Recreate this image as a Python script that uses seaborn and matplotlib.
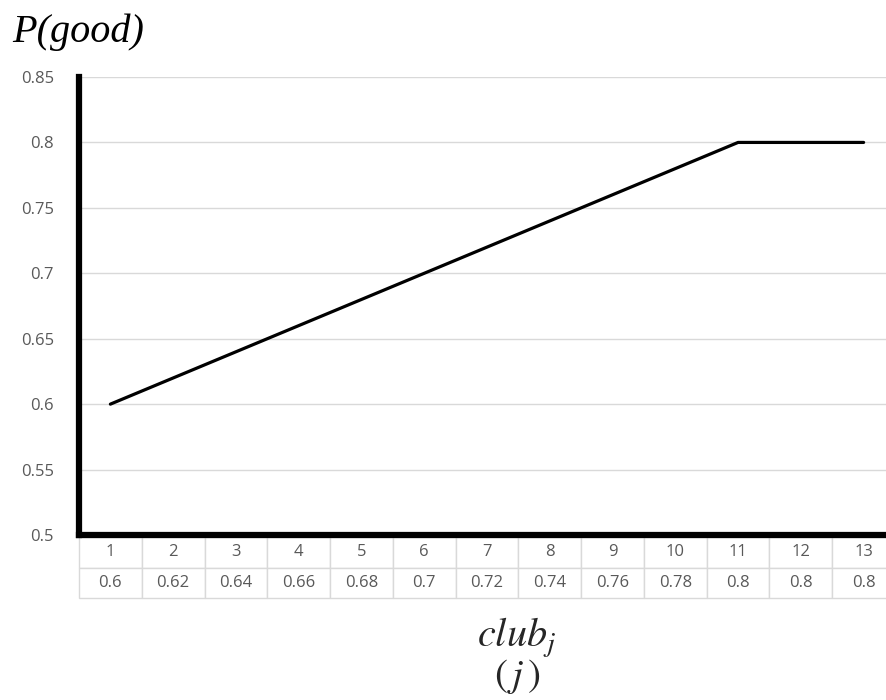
import matplotlib
matplotlib.use("Agg")
import matplotlib.pyplot as plt
import seaborn as sns
import pandas as pd

j_values = [1, 2, 3, 4, 5, 6, 7, 8, 9, 10, 11, 12, 13]
p_good = [0.6, 0.62, 0.64, 0.66, 0.68, 0.7, 0.72, 0.74, 0.76, 0.78, 0.8, 0.8, 0.8]
y_ticks = [0.5, 0.55, 0.6, 0.65, 0.7, 0.75, 0.8, 0.85]
y_tick_labels = ["0.5", "0.55", "0.6", "0.65", "0.7", "0.75", "0.8", "0.85"]
p_labels = ["0.6", "0.62", "0.64", "0.66", "0.68", "0.7", "0.72", "0.74", "0.76", "0.78", "0.8", "0.8", "0.8"]

sns.set_style("white")
plt.rcParams['font.family'] = ['Open Sans', 'DejaVu Sans']
plt.rcParams['mathtext.fontset'] = 'stix'

df = pd.DataFrame({"j": j_values, "p": p_good})

fig = plt.figure(figsize=(8.86, 7.0), dpi=100)
ax = fig.add_axes([79/886, 165/700, 816/886, 458/700])

sns.lineplot(data=df, x="j", y="p", ax=ax, color="black", linewidth=2.3)

ax.set_xlim(0.5, 13.5)
ax.set_ylim(0.5, 0.85)
ax.set_yticks(y_ticks)
ax.set_yticklabels(y_tick_labels, color="#595959", fontsize=12)
ax.tick_params(axis="y", length=0, pad=18)
ax.set_xticks([])
ax.set_xlabel("")
ax.set_ylabel("")
ax.grid(axis="y", color="#d9d9d9", linewidth=1)
ax.set_axisbelow(True)

for s in ["top", "right"]:
    ax.spines[s].set_visible(False)
for s in ["left", "bottom"]:
    ax.spines[s].set_color("black")
    ax.spines[s].set_linewidth(4.5)
    ax.spines[s].set_zorder(5)

tbl = ax.table(cellText=[[str(v) for v in j_values], p_labels],
               cellLoc="center", bbox=[0, -0.137, 1, 0.132])
tbl.auto_set_font_size(False)
tbl.set_fontsize(12)
for (r, c), cell in tbl.get_celld().items():
    cell.set_edgecolor("#d9d9d9")
    cell.set_linewidth(1)
    cell.get_text().set_color("#595959")

fig.text(12/886, 1 - 32/700, "P(good)", family="Liberation Serif", style="italic",
         fontsize=29, ha="left", va="center", color="black")
fig.text(517/886, 1 - 638/700, r"$club_j$", fontsize=29, ha="center", va="center")
fig.text(517/886, 1 - 677/700, r"$(\,j\,)$", fontsize=28, ha="center", va="center")

fig.savefig("out.png", dpi=100)
